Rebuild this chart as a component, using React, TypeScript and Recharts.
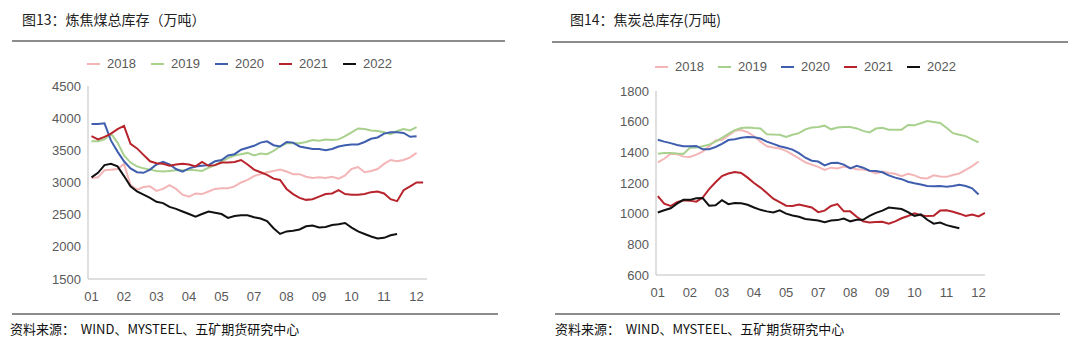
import { Line, LineChart, XAxis, YAxis } from "recharts"

const YEARS = ["2018", "2019", "2020", "2021", "2022"]
const COLORS = ["#F4B5B7", "#A9D18E", "#3F5FAE", "#B8242C", "#111111"]
const MONTH_TICKS = ["01", "02", "03", "04", "05", "07", "08", "09", "10", "11", "12"]
const TICK_INDEX = [0, 5, 10, 15, 20, 25, 30, 35, 40, 45, 50]

// 图13 炼焦煤总库存（周度，万吨）
const coking2018 = [3070, 3080, 3190, 3200, 3210, 3290, 2960, 2890, 2930, 2940, 2870, 2900, 2960, 2900, 2810, 2780, 2830, 2820, 2860, 2900, 2910, 2910, 2940, 3000, 3040, 3100, 3130, 3160, 3180, 3200, 3170, 3130, 3130, 3090, 3070, 3080, 3070, 3090, 3060, 3110, 3210, 3240, 3160, 3180, 3210, 3290, 3350, 3330, 3350, 3390, 3460]
const coking2019 = [3640, 3640, 3670, 3760, 3620, 3420, 3310, 3250, 3220, 3200, 3180, 3170, 3180, 3190, 3190, 3200, 3190, 3180, 3230, 3270, 3330, 3380, 3420, 3440, 3460, 3420, 3450, 3440, 3490, 3560, 3610, 3610, 3610, 3630, 3660, 3650, 3670, 3660, 3670, 3720, 3780, 3840, 3830, 3810, 3800, 3780, 3750, 3800, 3830, 3810, 3860]
const coking2020 = [3910, 3910, 3920, 3650, 3480, 3330, 3220, 3160, 3150, 3200, 3280, 3320, 3280, 3210, 3170, 3220, 3250, 3260, 3270, 3330, 3350, 3420, 3440, 3510, 3540, 3570, 3620, 3640, 3580, 3560, 3630, 3620, 3560, 3540, 3520, 3520, 3500, 3520, 3560, 3580, 3590, 3590, 3630, 3680, 3700, 3760, 3780, 3780, 3770, 3710, 3720]
const coking2021 = [3720, 3670, 3710, 3760, 3830, 3880, 3600, 3530, 3430, 3330, 3300, 3290, 3260, 3280, 3290, 3280, 3250, 3320, 3260, 3270, 3310, 3310, 3320, 3350, 3280, 3200, 3160, 3120, 3060, 3040, 2900, 2820, 2760, 2730, 2740, 2780, 2820, 2830, 2880, 2820, 2810, 2810, 2820, 2850, 2860, 2830, 2740, 2710, 2880, 2940, 3000, 3000]
const coking2022 = [3080, 3150, 3270, 3290, 3250, 3100, 2940, 2860, 2810, 2760, 2700, 2680, 2620, 2590, 2550, 2510, 2470, 2510, 2550, 2530, 2510, 2450, 2480, 2490, 2490, 2460, 2440, 2400, 2290, 2200, 2240, 2250, 2270, 2320, 2330, 2300, 2310, 2340, 2350, 2370, 2300, 2240, 2200, 2160, 2130, 2140, 2180, 2200]

// 图14 焦炭总库存（周度，万吨）
const coke2018 = [1335, 1358, 1390, 1388, 1372, 1370, 1385, 1405, 1440, 1478, 1480, 1510, 1540, 1545, 1532, 1505, 1470, 1440, 1432, 1425, 1410, 1385, 1360, 1335, 1320, 1305, 1285, 1300, 1295, 1308, 1300, 1290, 1288, 1280, 1262, 1275, 1265, 1260, 1245, 1260, 1250, 1232, 1230, 1250, 1242, 1240, 1252, 1262, 1285, 1310, 1340]
const coke2019 = [1390, 1395, 1396, 1392, 1390, 1430, 1432, 1440, 1450, 1470, 1495, 1520, 1545, 1558, 1562, 1558, 1555, 1518, 1516, 1515, 1500, 1515, 1525, 1550, 1562, 1565, 1574, 1550, 1562, 1566, 1565, 1556, 1540, 1530, 1555, 1560, 1548, 1548, 1548, 1578, 1576, 1590, 1604, 1598, 1592, 1560, 1525, 1515, 1506, 1485, 1465]
const coke2020 = [1482, 1470, 1460, 1448, 1440, 1440, 1442, 1420, 1420, 1435, 1455, 1480, 1485, 1495, 1500, 1498, 1490, 1470, 1455, 1440, 1430, 1418, 1395, 1365, 1345, 1340, 1315, 1330, 1332, 1320, 1295, 1312, 1300, 1280, 1278, 1270, 1250, 1235, 1225, 1208, 1198, 1190, 1180, 1178, 1180, 1175, 1180, 1188, 1180, 1165, 1125]
const coke2021 = [1115, 1065, 1050, 1075, 1088, 1085, 1078, 1105, 1160, 1205, 1245, 1262, 1272, 1265, 1235, 1200, 1170, 1135, 1098, 1075, 1052, 1050, 1060, 1050, 1040, 1010, 1020, 1050, 1062, 1015, 1015, 980, 950, 943, 945, 947, 935, 950, 970, 985, 1002, 990, 984, 986, 1020, 1022, 1012, 1000, 985, 995, 982, 1005]
const coke2022 = [1008, 1022, 1035, 1065, 1090, 1090, 1100, 1102, 1052, 1055, 1088, 1062, 1070, 1068, 1058, 1040, 1025, 1015, 1008, 1022, 1000, 988, 980, 965, 960, 955, 945, 955, 958, 968, 950, 960, 960, 985, 1005, 1020, 1040, 1035, 1030, 1010, 985, 995, 960, 935, 942, 925, 915, 905]

const FONT = "'Liberation Sans', Arial, sans-serif"
const CJK = "'Noto Sans CJK SC', sans-serif"

function buildRows(series: number[][]) {
  const n = Math.max(...series.map((s) => s.length))
  const rows = []
  for (let i = 0; i < n; i++) {
    const row: Record<string, number | undefined> = { i }
    series.forEach((s, k) => {
      row[YEARS[k]] = s[i]
    })
    rows.push(row)
  }
  return rows
}

function LegendRow({ left, top, gap }: { left: number; top: number; gap: number }) {
  return (
    <div style={{ position: "absolute", left, top, display: "flex", fontFamily: FONT, fontSize: 13, color: "#595959" }}>
      {YEARS.map((y, k) => (
        <div key={y} style={{ width: gap, display: "flex", alignItems: "center" }}>
          <span style={{ display: "inline-block", width: 13, height: 2, background: COLORS[k], marginRight: 7 }} />
          <span>{y}</span>
        </div>
      ))}
    </div>
  )
}

type PanelProps = {
  left: number
  series: number[][]
  yDomain: [number, number]
  yTicks: number[]
  xDomain: [number, number]
  margin: { top: number; right: number; bottom: number; left: number }
  yWidth: number
}

function Panel({ left, series, yDomain, yTicks, xDomain, margin, yWidth }: PanelProps) {
  const rows = buildRows(series)
  return (
    <div style={{ position: "absolute", left, top: 0 }}>
      <LineChart width={540} height={351} data={rows} margin={margin}>
        <XAxis
          dataKey="i"
          type="number"
          domain={xDomain}
          ticks={TICK_INDEX}
          tickFormatter={(v: number) => MONTH_TICKS[TICK_INDEX.indexOf(v)] ?? ""}
          allowDataOverflow
          height={30}
          stroke="#BFBFBF"
          tickLine={false}
          tickSize={0}
          tickMargin={13}
          tick={{ fill: "#595959", fontSize: 13, fontFamily: FONT }}
        />
        <YAxis
          domain={yDomain}
          ticks={yTicks}
          width={yWidth}
          stroke="#BFBFBF"
          tickLine={false}
          tickSize={0}
          tickMargin={7}
          tick={{ fill: "#595959", fontSize: 13, fontFamily: FONT }}
        />
        {YEARS.map((y, k) => (
          <Line
            key={y}
            dataKey={y}
            stroke={COLORS[k]}
            strokeWidth={2}
            dot={false}
            isAnimationActive={false}
          />
        ))}
      </LineChart>
    </div>
  )
}

export default function App() {
  return (
    <div style={{ position: "relative", width: 1080, height: 351, margin: -8, background: "#fff", overflow: "hidden" }}>
      <div style={{ position: "absolute", left: 22, top: 9, fontFamily: CJK, fontSize: 14, color: "#222" }}>
        图13：炼焦煤总库存（万吨）
      </div>
      <div style={{ position: "absolute", left: 570, top: 9, fontFamily: CJK, fontSize: 14, color: "#222" }}>
        图14：焦炭总库存(万吨)
      </div>
      <div style={{ position: "absolute", left: 12, top: 40, width: 493, height: 2, background: "#8C8C8C" }} />
      <div style={{ position: "absolute", left: 552, top: 41, width: 516, height: 2, background: "#8C8C8C" }} />

      <LegendRow left={87} top={56} gap={64} />
      <LegendRow left={655} top={59} gap={63} />

      <Panel
        left={0}
        series={[coking2018, coking2019, coking2020, coking2021, coking2022]}
        yDomain={[1500, 4500]}
        yTicks={[1500, 2000, 2500, 3000, 3500, 4000, 4500]}
        xDomain={[-0.54, 51.6]}
        margin={{ top: 86, right: 113, bottom: 42, left: 0 }}
        yWidth={88}
      />
      <Panel
        left={540}
        series={[coke2018, coke2019, coke2020, coke2021, coke2022]}
        yDomain={[600, 1800]}
        yTicks={[600, 800, 1000, 1200, 1400, 1600, 1800]}
        xDomain={[-0.28, 51.0]}
        margin={{ top: 91, right: 95, bottom: 46, left: 0 }}
        yWidth={116}
      />

      <div style={{ position: "absolute", left: 12, top: 313, width: 486, height: 2, background: "#8C8C8C" }} />
      <div style={{ position: "absolute", left: 555, top: 313, width: 505, height: 2, background: "#8C8C8C" }} />
      <div style={{ position: "absolute", left: 10, top: 319, fontFamily: CJK, fontSize: 13, color: "#111", whiteSpace: "pre" }}>
        资料来源：  WIND、MYSTEEL、五矿期货研究中心
      </div>
      <div style={{ position: "absolute", left: 555, top: 319, fontFamily: CJK, fontSize: 13, color: "#111", whiteSpace: "pre" }}>
        资料来源：  WIND、MYSTEEL、五矿期货研究中心
      </div>
    </div>
  )
}
